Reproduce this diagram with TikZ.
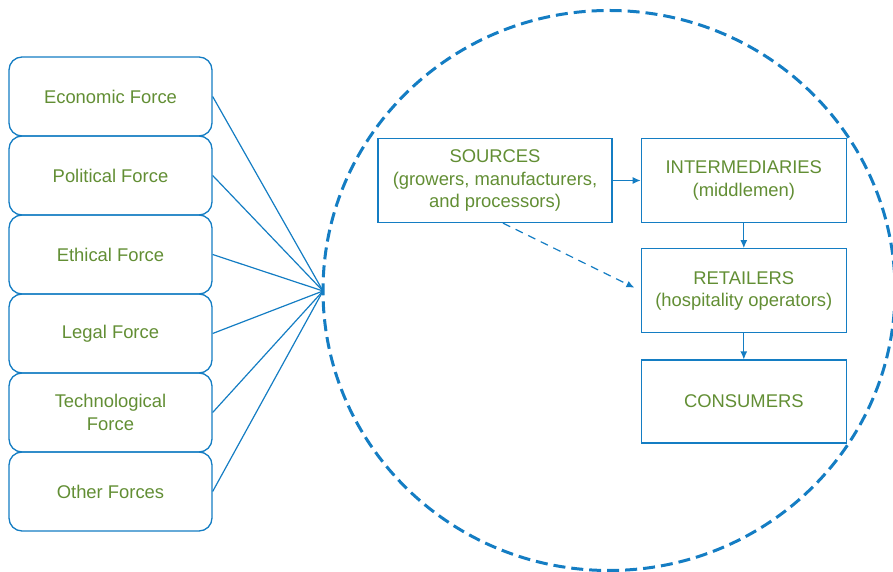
\documentclass[tikz,border=0pt]{standalone}
\usepackage{fontspec}
\setmainfont{Liberation Sans}
\usetikzlibrary{positioning, arrows.meta}

\definecolor{lineblue}{RGB}{20,125,195}
\definecolor{textgreen}{RGB}{98,142,52}

\begin{document}
\begin{tikzpicture}[x = 1pt, y = 1pt, > = {Latex[length = 8pt, width = 7pt]},
	every node/.style = {text = textgreen, font = \fontsize{18.4}{22.5}\selectfont, align = center},
	force/.style = {draw = lineblue, line width = 1.3pt, rounded corners = 13pt, minimum width = 203pt, minimum height = 79pt},
	stage/.style = {draw = lineblue, line width = 1.3pt, minimum width = 205pt, minimum height = 84pt},
	link/.style = {lineblue, line width = 1.2pt}]

	\useasboundingbox (0, 0) rectangle (893, 572);

	% Forces
	
	\foreach \lbl [count = \n] in {Economic Force, Political Force, Ethical Force, Legal Force, {Technological\\Force}, Other Forces}
		\node [force] (f\n) at (110.5, {475.5 - (\n - 1) * 79}) {\lbl};
	
	% Environment boundary
	
	\coordinate (hub) at (323, 281);
	\begin{scope}
		\clip (0, 0) rectangle (893, 572);
		\draw [lineblue, line width = 3pt, dash pattern = on 12pt off 6pt] (609, 281.5) ellipse [x radius = 286pt, y radius = 280pt];
	\end{scope}
	
	\foreach \n in {1, 2, ..., 6}
		\draw [link] (f\n.east) -- (hub);
	
	% Distribution channel
	
	\node [stage, minimum width = 234pt] (src) at (495, 391.5) {SOURCES\\(growers, manufacturers,\\and processors)};
	\node [stage, right = 28pt of src] (mid) {INTERMEDIARIES\\(middlemen)};
	\node [stage, below = 25pt of mid] (ret) {RETAILERS\\(hospitality operators)};
	\node [stage, below = 26pt of ret, minimum height = 83pt] (con) {CONSUMERS};
	
	% Flow arrows
	
	\draw [link, ->] (src) -- (mid);
	\draw [link, ->] (mid) -- (ret);
	\draw [link, ->] (ret) -- (con);
	\draw [link, ->, dash pattern = on 8pt off 6pt, shorten > = 7pt] ([xshift = 8pt] src.south) -- (ret.west);

\end{tikzpicture}
\end{document}
